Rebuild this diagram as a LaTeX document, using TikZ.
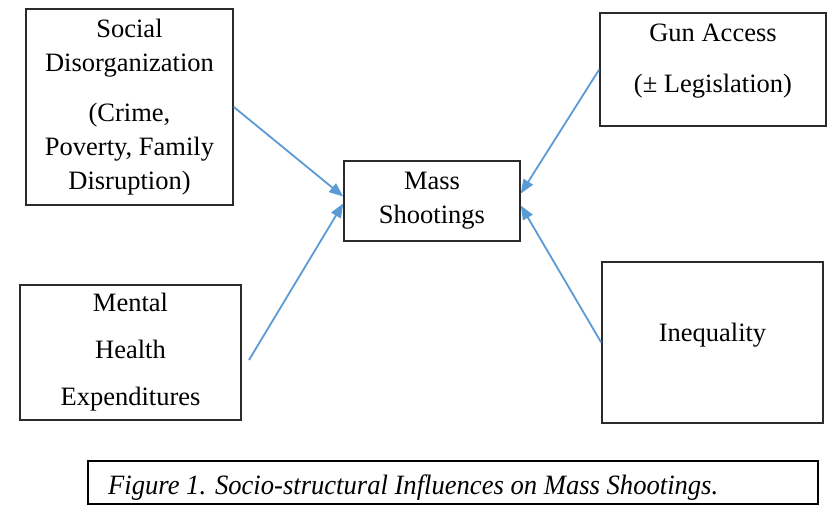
\documentclass[tikz,border=0pt]{standalone}
\usepackage{fontspec}
\setmainfont{Liberation Serif}
\usetikzlibrary{arrows.meta}
\definecolor{arrowblue}{HTML}{5B9BD5}
\definecolor{boxgray}{HTML}{2B2B2B}
\begin{document}
\begin{tikzpicture}[
   x=1pt, y=-1pt,
   box/.style={draw=boxgray, line width=1.6pt, align=center, inner sep=0pt,
      font=\fontsize{26.5}{34}\selectfont},
   txt/.style={align=center, inner sep=0pt, font=\fontsize{26.5}{34}\selectfont},
   arr/.style={draw=arrowblue, line width=1.8pt,
      -{Triangle[length=14pt,width=11pt]}}]

\useasboundingbox (0,0) rectangle (830,514);

\node[box, minimum width=207pt, minimum height=196pt] (social) at (129.5,107)
   {Social\\Disorganization\\[16pt](Crime,\\Poverty, Family\\Disruption)};
\node[box, minimum width=221pt, minimum height=135pt] (mental) at (130.5,352.5)
   {Mental\\[13pt]Health\\[13pt]Expenditures};
\node[box, minimum width=176pt, minimum height=80pt] (mass) at (432,201)
   {Mass\\Shootings};
\node[box, minimum width=226pt, minimum height=113pt] (gun) at (713,69.5) {};
\node[txt] (guntext) at (713,61) {Gun Access\\[17pt](± Legislation)};
\node[box, minimum width=221pt, minimum height=161pt] (inequality) at (712.5,342.5) {};
\node[txt] (inequalitytext) at (712.5,335) {Inequality};

\coordinate (mentalout) at (249,360);
\draw[arr] (social.east) -- ([yshift=4.5pt]mass.west);
\draw[arr] (mentalout) -- ([yshift=-2.5pt]mass.west);
\draw[arr] (gun.west) -- ([yshift=7.5pt]mass.east);
\draw[arr] (inequality.west) -- ([yshift=-4.5pt]mass.east);

% caption
\node[draw=black, line width=1.8pt, minimum width=730pt, minimum height=43pt,
   inner sep=0pt] (capbox) at (453,482.5) {};
\node[anchor=base west, inner sep=0pt, font=\fontsize{28}{34}\selectfont\itshape]
   (caption) at (108,494)
   {\scalebox{0.95}[1]{Figure 1. Socio-structural Influences on Mass Shootings.}};

\end{tikzpicture}
\end{document}
